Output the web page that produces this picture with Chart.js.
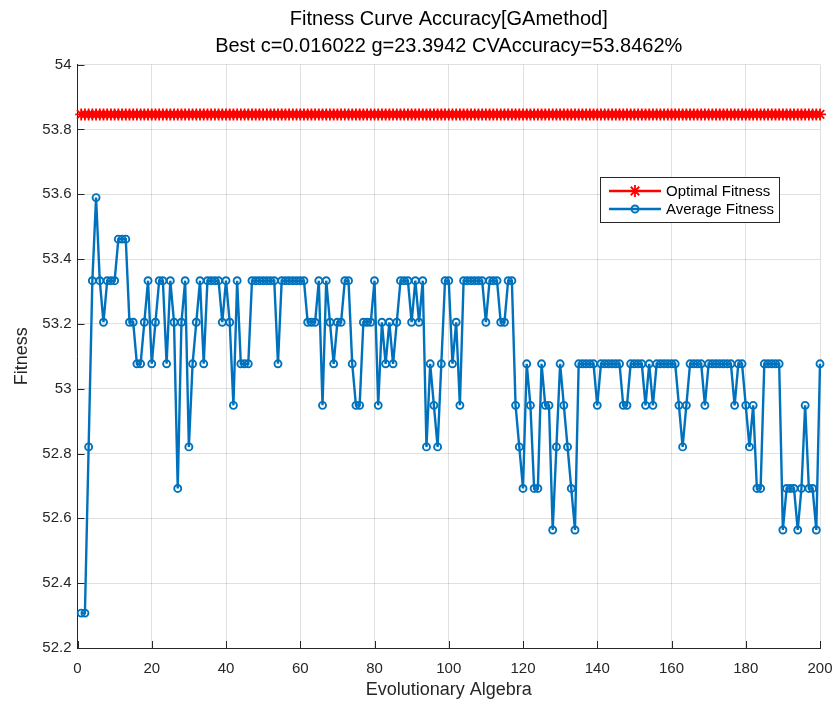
<!DOCTYPE html>
<html>
<head>
<meta charset="utf-8">
<title>Fitness Curve Accuracy[GAmethod]</title>
<script src="https://cdn.jsdelivr.net/npm/chart.js@4.4.1/dist/chart.umd.min.js"></script>
<style>
  html, body { margin: 0; padding: 0; background: #ffffff; }
  #chartBox { width: 835px; height: 701px; }
</style>
</head>
<body>
<div id="chartBox"><canvas id="fitnessChart" width="835" height="701"></canvas></div>
<script>
// Fitness curve of the GA parameter search (SVM c / g), one point per generation.

// ----------------------------------------------------
// DATA
// ----------------------------------------------------
const titleLines = [
  "Fitness Curve Accuracy[GAmethod]",
  "Best c=0.016022 g=23.3942 CVAccuracy=53.8462%"
];
const xAxisTitle = "Evolutionary Algebra";
const yAxisTitle = "Fitness";
const seriesNames = ["Optimal Fitness", "Average Fitness"];

const xTickStep = 20;
const yTickStep = 0.2;
const xRange = [0, 200];
const yRange = [52.2, 54];

// generations 1..200
const generations = Array.from({ length: 200 }, (_, i) => i + 1);

const optimalFitness = [
  53.8462, 53.8462, 53.8462, 53.8462, 53.8462, 53.8462, 53.8462, 53.8462, 53.8462, 53.8462, 53.8462, 53.8462, 53.8462, 53.8462, 53.8462, 53.8462, 53.8462, 53.8462, 53.8462, 53.8462,
  53.8462, 53.8462, 53.8462, 53.8462, 53.8462, 53.8462, 53.8462, 53.8462, 53.8462, 53.8462, 53.8462, 53.8462, 53.8462, 53.8462, 53.8462, 53.8462, 53.8462, 53.8462, 53.8462, 53.8462,
  53.8462, 53.8462, 53.8462, 53.8462, 53.8462, 53.8462, 53.8462, 53.8462, 53.8462, 53.8462, 53.8462, 53.8462, 53.8462, 53.8462, 53.8462, 53.8462, 53.8462, 53.8462, 53.8462, 53.8462,
  53.8462, 53.8462, 53.8462, 53.8462, 53.8462, 53.8462, 53.8462, 53.8462, 53.8462, 53.8462, 53.8462, 53.8462, 53.8462, 53.8462, 53.8462, 53.8462, 53.8462, 53.8462, 53.8462, 53.8462,
  53.8462, 53.8462, 53.8462, 53.8462, 53.8462, 53.8462, 53.8462, 53.8462, 53.8462, 53.8462, 53.8462, 53.8462, 53.8462, 53.8462, 53.8462, 53.8462, 53.8462, 53.8462, 53.8462, 53.8462,
  53.8462, 53.8462, 53.8462, 53.8462, 53.8462, 53.8462, 53.8462, 53.8462, 53.8462, 53.8462, 53.8462, 53.8462, 53.8462, 53.8462, 53.8462, 53.8462, 53.8462, 53.8462, 53.8462, 53.8462,
  53.8462, 53.8462, 53.8462, 53.8462, 53.8462, 53.8462, 53.8462, 53.8462, 53.8462, 53.8462, 53.8462, 53.8462, 53.8462, 53.8462, 53.8462, 53.8462, 53.8462, 53.8462, 53.8462, 53.8462,
  53.8462, 53.8462, 53.8462, 53.8462, 53.8462, 53.8462, 53.8462, 53.8462, 53.8462, 53.8462, 53.8462, 53.8462, 53.8462, 53.8462, 53.8462, 53.8462, 53.8462, 53.8462, 53.8462, 53.8462,
  53.8462, 53.8462, 53.8462, 53.8462, 53.8462, 53.8462, 53.8462, 53.8462, 53.8462, 53.8462, 53.8462, 53.8462, 53.8462, 53.8462, 53.8462, 53.8462, 53.8462, 53.8462, 53.8462, 53.8462,
  53.8462, 53.8462, 53.8462, 53.8462, 53.8462, 53.8462, 53.8462, 53.8462, 53.8462, 53.8462, 53.8462, 53.8462, 53.8462, 53.8462, 53.8462, 53.8462, 53.8462, 53.8462, 53.8462, 53.8462
];

const averageFitness = [
  // 1-20
  52.3077, 52.3077, 52.8205, 53.3333, 53.5897, 53.3333, 53.2051, 53.3333, 53.3333, 53.3333,
  53.4615, 53.4615, 53.4615, 53.2051, 53.2051, 53.0769, 53.0769, 53.2051, 53.3333, 53.0769,
  // 21-40
  53.2051, 53.3333, 53.3333, 53.0769, 53.3333, 53.2051, 52.6923, 53.2051, 53.3333, 52.8205,
  53.0769, 53.2051, 53.3333, 53.0769, 53.3333, 53.3333, 53.3333, 53.3333, 53.2051, 53.3333,
  // 41-60
  53.2051, 52.9487, 53.3333, 53.0769, 53.0769, 53.0769, 53.3333, 53.3333, 53.3333, 53.3333,
  53.3333, 53.3333, 53.3333, 53.0769, 53.3333, 53.3333, 53.3333, 53.3333, 53.3333, 53.3333,
  // 61-80
  53.3333, 53.2051, 53.2051, 53.2051, 53.3333, 52.9487, 53.3333, 53.2051, 53.0769, 53.2051,
  53.2051, 53.3333, 53.3333, 53.0769, 52.9487, 52.9487, 53.2051, 53.2051, 53.2051, 53.3333,
  // 81-100
  52.9487, 53.2051, 53.0769, 53.2051, 53.0769, 53.2051, 53.3333, 53.3333, 53.3333, 53.2051,
  53.3333, 53.2051, 53.3333, 52.8205, 53.0769, 52.9487, 52.8205, 53.0769, 53.3333, 53.3333,
  // 101-120
  53.0769, 53.2051, 52.9487, 53.3333, 53.3333, 53.3333, 53.3333, 53.3333, 53.3333, 53.2051,
  53.3333, 53.3333, 53.3333, 53.2051, 53.2051, 53.3333, 53.3333, 52.9487, 52.8205, 52.6923,
  // 121-140
  53.0769, 52.9487, 52.6923, 52.6923, 53.0769, 52.9487, 52.9487, 52.5641, 52.8205, 53.0769,
  52.9487, 52.8205, 52.6923, 52.5641, 53.0769, 53.0769, 53.0769, 53.0769, 53.0769, 52.9487,
  // 141-160
  53.0769, 53.0769, 53.0769, 53.0769, 53.0769, 53.0769, 52.9487, 52.9487, 53.0769, 53.0769,
  53.0769, 53.0769, 52.9487, 53.0769, 52.9487, 53.0769, 53.0769, 53.0769, 53.0769, 53.0769,
  // 161-180
  53.0769, 52.9487, 52.8205, 52.9487, 53.0769, 53.0769, 53.0769, 53.0769, 52.9487, 53.0769,
  53.0769, 53.0769, 53.0769, 53.0769, 53.0769, 53.0769, 52.9487, 53.0769, 53.0769, 52.9487,
  // 181-200
  52.8205, 52.9487, 52.6923, 52.6923, 53.0769, 53.0769, 53.0769, 53.0769, 53.0769, 52.5641,
  52.6923, 52.6923, 52.6923, 52.5641, 52.6923, 52.9487, 52.6923, 52.6923, 52.5641, 53.0769
];

// ----------------------------------------------------
// STYLE
// ----------------------------------------------------
const FONT = '"Liberation Sans", Arial, Helvetica, sans-serif';
const AXIS_COLOR = "#262626";
const GRID_COLOR = "rgba(38, 38, 38, 0.14)";
const RED = "#ff0000";
const BLUE = "#0072bd";

// MATLAB draws its ticks inside the axes
const inwardTicks = {
  id: "inwardTicks",
  afterDraw(chart) {
    const { ctx, chartArea, scales } = chart;
    const len = 7;
    ctx.save();
    ctx.strokeStyle = AXIS_COLOR;
    ctx.lineWidth = 1;
    scales.x.ticks.forEach(t => {
      const px = Math.round(scales.x.getPixelForValue(t.value)) + 0.5;
      ctx.beginPath();
      ctx.moveTo(px, chartArea.bottom);
      ctx.lineTo(px, chartArea.bottom - len);
      ctx.stroke();
    });
    scales.y.ticks.forEach(t => {
      const py = Math.round(scales.y.getPixelForValue(t.value)) + 0.5;
      ctx.beginPath();
      ctx.moveTo(chartArea.left, py);
      ctx.lineTo(chartArea.left + len, py);
      ctx.stroke();
    });
    ctx.restore();
  }
};

// boxed legend in the upper right, like MATLAB's 'Location','best'
const boxLegend = {
  id: "boxLegend",
  afterDraw(chart) {
    const { ctx } = chart;
    const box = { x: 600, y: 177, w: 179, h: 45 };
    ctx.save();
    ctx.fillStyle = "#ffffff";
    ctx.fillRect(box.x, box.y, box.w, box.h);
    ctx.strokeStyle = AXIS_COLOR;
    ctx.lineWidth = 1;
    ctx.strokeRect(box.x + 0.5, box.y + 0.5, box.w, box.h);

    chart.data.datasets.forEach((ds, i) => {
      const y = box.y + 14 + i * 18;
      ctx.strokeStyle = ds.borderColor;
      ctx.lineWidth = ds.borderWidth;
      ctx.beginPath();
      ctx.moveTo(box.x + 9, y);
      ctx.lineTo(box.x + 61, y);
      ctx.stroke();
      ctx.lineWidth = ds.pointBorderWidth;
      ctx.fillStyle = ds.pointBackgroundColor;
      Chart.helpers.drawPoint(ctx, {
        pointStyle: ds.pointStyle,
        radius: ds.pointRadius,
        borderWidth: ds.pointBorderWidth,
        rotation: 0
      }, box.x + 35, y);
      ctx.fillStyle = "#000000";
      ctx.font = "15px " + FONT;
      ctx.textBaseline = "middle";
      ctx.fillText(ds.label, box.x + 66, y + 1);
    });
    ctx.restore();
  }
};

// ----------------------------------------------------
// CHART
// ----------------------------------------------------
const toPoints = values => generations.map((g, i) => ({ x: g, y: values[i] }));

const ctx = document.getElementById("fitnessChart").getContext("2d");

new Chart(ctx, {
  type: "line",
  data: {
    datasets: [
      {
        label: seriesNames[0],
        data: toPoints(optimalFitness),
        borderColor: RED,
        borderWidth: 2.6,
        pointStyle: "star",
        pointRadius: 6,
        pointBorderWidth: 1.8,
        pointBorderColor: RED,
        pointBackgroundColor: RED,
        tension: 0,
        clip: false
      },
      {
        label: seriesNames[1],
        data: toPoints(averageFitness),
        borderColor: BLUE,
        borderWidth: 2.4,
        pointStyle: "circle",
        pointRadius: 3.5,
        pointBorderWidth: 1.9,
        pointBorderColor: BLUE,
        pointBackgroundColor: "rgba(0, 0, 0, 0)",
        tension: 0,
        clip: false
      }
    ]
  },
  options: {
    responsive: false,
    animation: false,
    devicePixelRatio: 1,
    layout: { padding: { left: 0, right: 15, top: 0, bottom: 0 } },
    plugins: {
      legend: { display: false },
      tooltip: { enabled: false },
      title: {
        display: true,
        fullSize: false,
        text: titleLines,
        color: "#000000",
        font: { family: FONT, size: 20, weight: "normal", lineHeight: 1.35 },
        padding: { top: 5.5, bottom: 5.1 }
      }
    },
    scales: {
      x: {
        type: "linear",
        min: xRange[0],
        max: xRange[1],
        ticks: {
          stepSize: xTickStep,
          color: AXIS_COLOR,
          font: { family: FONT, size: 15 },
          padding: 12,
          maxRotation: 0
        },
        grid: { color: GRID_COLOR, drawTicks: false },
        border: { display: true, color: AXIS_COLOR, width: 1 },
        title: {
          display: true,
          text: xAxisTitle,
          color: AXIS_COLOR,
          font: { family: FONT, size: 18 },
          padding: { top: 0, bottom: 0 }
        },
        afterFit: scale => {
          scale.height = 53;
          // the end labels fit inside the fixed right margin
          scale.paddingLeft = 0;
          scale.paddingRight = 0;
        }
      },
      y: {
        type: "linear",
        min: yRange[0],
        max: yRange[1],
        ticks: {
          stepSize: yTickStep,
          color: AXIS_COLOR,
          font: { family: FONT, size: 15 },
          padding: 6,
          callback: value => String(+value.toFixed(1))
        },
        grid: { color: GRID_COLOR, drawTicks: false },
        border: { display: true, color: AXIS_COLOR, width: 1 },
        title: {
          display: true,
          text: yAxisTitle,
          color: AXIS_COLOR,
          font: { family: FONT, size: 18 },
          padding: { top: 11, bottom: 0 }
        },
        afterFit: scale => { scale.width = 77.5; }
      }
    }
  },
  plugins: [inwardTicks, boxLegend]
});
</script>
</body>
</html>
